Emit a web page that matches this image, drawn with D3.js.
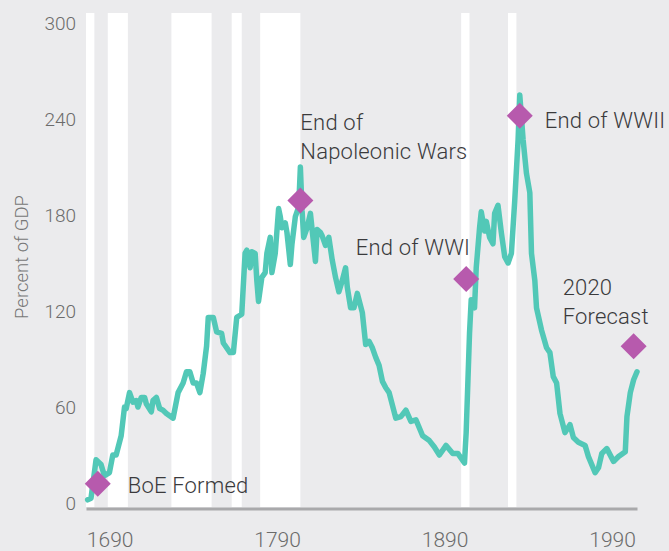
<!DOCTYPE html>
<html lang="en">
<head>
<meta charset="UTF-8">
<title>UK public debt, percent of GDP</title>
<style>
  html, body { margin: 0; padding: 0; background: #ebebed; }
  svg { display: block; font-family: Roboto, "Open Sans", sans-serif; font-weight: 300; }
</style>
</head>
<body>
<svg id="chart" width="669" height="551"></svg>
<script src="https://cdn.jsdelivr.net/npm/d3@7"></script>
<script>
// debt as percent of GDP
var years = [1689,1691,1694,1697,1699,1702,1704,1706,1709,1711,1712,1714,1716,1718,1719,1721,1723,1724,1727,1728,
  1730,1732,1734,1736,1740,1743,1746,1748,1750,1752,1754,1756,1758,1760,1761,1764,1766,1769,1770,1774,
  1776,1778,1781,1783,1784,1786,1787,1789,1790,1791,1793,1795,1796,1798,1799,1801,1803,1804,1805,1807,
  1808,1810,1811,1813,1815,1816,1817,1818,1820,1822,1823,1825,1826,1828,1829,1831,1833,1835,1837,1839,
  1841,1843,1844,1846,1848,1850,1853,1855,1857,1859,1861,1863,1865,1867,1869,1873,1876,1879,1882,1885,
  1889,1893,1896,1899,1903,1907,1910,1914,1915,1917,1918,1920,1921,1923,1924,1926,1927,1929,1931,1932,
  1934,1936,1938,1940,1942,1944,1946,1947,1949,1951,1953,1954,1956,1957,1960,1963,1965,1967,1969,1971,
  1974,1977,1979,1982,1986,1988,1992,1994,1996,1999,2003,2006,2010,2011,2013,2015,2017];
var debt = [2,3,27,24,17,19,30,30,42,60,59,69,63,64,60,66,66,62,57,64,
  66,59,58,56,53,69,75,82,82,75,75,69,81,98,116,116,107,106,100,94,
  94,116,118,156,158,147,157,156,139,126,141,144,156,166,144,156,184,179,172,175,
  169,149,162,179,185,210,183,166,172,181,171,151,171,169,167,161,166,152,141,132,
  139,147,135,122,122,131,119,99,101,97,91,86,76,72,69,53,54,58,51,52,
  42,39,35,30,36,31,31,25,44,106,127,122,147,172,182,170,176,166,162,181,
  186,169,154,150,156,189,227,255,227,206,194,156,139,122,108,97,94,79,75,56,
  44,49,41,38,36,29,19,22,31,34,26,29,32,54,69,77,82];

// war periods (white bands)
var warStart = [1688,1701,1739,1775,1792,1912,1940];
var warEnd   = [1693,1713,1763,1781,1816,1917,1945];

// annotated events
var eventYear  = [1695,1816,1915,1947,2015];
var eventValue = [12,189,140,242,98];
var eventText  = [["BoE Formed"],["End of","Napoleonic Wars"],["End of WWI"],["End of WWII"],["2020","Forecast"]];

var xTicks = [1690,1790,1890,1990];
var yTicks = [0,60,120,180,240,300];

// label placement relative to each diamond
var labelPos = [
  {dx: 30, dy: 9, anchor: "start"},
  {dx: 0, dy: -71, anchor: "start"},
  {dx: 4, dy: -24, anchor: "end"},
  {dx: 25, dy: 12, anchor: "start"},
  {dx: -71, dy: -51, anchor: "start"}
];

var svg = d3.select("#chart");
var x = d3.scaleLinear().domain([1688, 2017]).range([86, 637]);
var y = d3.scaleLinear().domain([-2.5, 306.25]).range([507, 13]);

// war bands
svg.append("g").selectAll("rect")
    .data(warStart)
    .enter().append("rect")
    .attr("x", function(d) { return x(d); })
    .attr("width", function(d, i) { return x(warEnd[i]) - x(d); })
    .attr("y", y.range()[1])
    .attr("height", y.range()[0] - y.range()[1])
    .attr("fill", "#ffffff");

// y axis labels only
var yAxis = svg.append("g")
    .attr("transform", "translate(76,0)")
    .call(d3.axisLeft(y).tickValues(yTicks).tickSize(0).tickPadding(0));
yAxis.select(".domain").remove();
yAxis.selectAll("text")
    .attr("font-family", "Roboto")
    .attr("font-size", 19)
    .attr("fill", "#6b6b6b");

// x axis
var xAxis = svg.append("g")
    .attr("transform", "translate(0,508.5)")
    .call(d3.axisBottom(x).tickValues(xTicks).tickFormat(d3.format("d")).tickSize(0).tickPadding(24));
xAxis.select(".domain")
    .attr("stroke", "#a9a9ab")
    .attr("stroke-width", 3);
xAxis.selectAll("text")
    .attr("font-family", "Roboto")
    .attr("font-size", 21)
    .attr("fill", "#6b6b6b")
    .attr("text-anchor", "start")
    .attr("dx", -3);

svg.append("text")
    .attr("transform", "translate(28,257) rotate(-90)")
    .attr("text-anchor", "middle")
    .attr("font-size", 18.5)
    .attr("fill", "#777777")
    .text("Percent of GDP");

var line = d3.line()
    .x(function(d, i) { return x(years[i]); })
    .y(function(d) { return y(d); });

svg.append("path")
    .datum(debt)
    .attr("fill", "none")
    .attr("stroke", "#52c8b7")
    .attr("stroke-width", 5.5)
    .attr("stroke-linejoin", "round")
    .attr("stroke-linecap", "round")
    .attr("d", line);

// diamonds + labels
var ev = svg.append("g").selectAll("g")
    .data(eventYear)
    .enter().append("g")
    .attr("transform", function(d, i) { return "translate(" + x(d) + "," + y(eventValue[i]) + ")"; });

ev.append("path")
    .attr("d", "M0,-13L13,0L0,13L-13,0Z")
    .attr("fill", "#b75aad");

ev.each(function(d, i) {
    var p = labelPos[i];
    var t = d3.select(this).append("text")
        .attr("x", p.dx)
        .attr("y", p.dy)
        .attr("text-anchor", p.anchor)
        .attr("font-size", 22)
        .attr("letter-spacing", 0.2)
        .attr("fill", "#3a3a3c");
    eventText[i].forEach(function(s, k) {
        t.append("tspan").attr("x", p.dx).attr("dy", k ? 29 : 0).text(s);
    });
});
</script>
</body>
</html>
